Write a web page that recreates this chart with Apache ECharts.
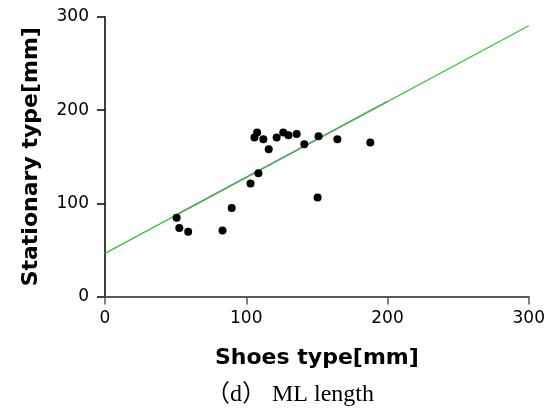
<!DOCTYPE html>
<html>
<head>
<meta charset="utf-8">
<script src="https://cdn.jsdelivr.net/npm/echarts@6/dist/echarts.min.js"></script>
<style>html,body{margin:0;padding:0;background:#fff}#c{width:548px;height:412px}</style>
</head>
<body>
<div id="c"></div>
<script>
// Data
const shoesX = [50.7, 52.6, 58.9, 83.2, 89.7, 103.0, 108.6, 105.8, 107.7, 112.1, 115.9, 121.5, 126.2, 129.9, 135.7, 141.1, 151.2, 150.5, 164.5, 187.8];
const stationaryY = [84.4, 73.4, 69.4, 70.9, 95.1, 121.3, 132.3, 170.6, 175.9, 168.8, 158.0, 170.6, 175.9, 173.0, 174.4, 163.4, 172.0, 106.3, 168.8, 165.2];
// Trend line (green, extended) endpoints
const trendX = [0, 300];
const trendY = [46.3, 290.6];
// Fit line over data range (purple, beneath green)
const fitX = [50, 200];
const fitY = [87.4, 209.5];
const xTicks = [0, 100, 200, 300];
const yTicks = [0, 100, 200, 300];

const points = shoesX.map((x, i) => [x, stationaryY[i]]);
const trend = trendX.map((x, i) => [x, trendY[i]]);
const fit = fitX.map((x, i) => [x, fitY[i]]);

const chart = echarts.init(document.getElementById('c'), null, {renderer: 'canvas'});
chart.setOption({
  animation: false,
  backgroundColor: '#fff',
  title: {
    text: '（d） ML length',
    left: 201,
    top: 378,
    textStyle: {fontFamily: 'Liberation Serif, Noto Sans CJK JP, serif', fontSize: 24, fontWeight: 'normal', color: '#000'}
  },
  grid: {left: 105, top: 17, right: 15, bottom: 115.5, containLabel: false},
  xAxis: {
    type: 'value', min: xTicks[0], max: xTicks[xTicks.length - 1], interval: 100,
    name: 'Shoes type[mm]', nameLocation: 'middle', nameGap: 51,
    nameTextStyle: {fontFamily: 'DejaVu Sans, Verdana, sans-serif', fontSize: 22, fontWeight: 'bold', color: '#000'},
    axisLine: {show: true, onZero: false, lineStyle: {color: '#595959', width: 2}},
    axisTick: {show: true, length: 8, lineStyle: {color: '#595959', width: 1.5}},
    axisLabel: {margin: 14, fontFamily: 'DejaVu Sans, Verdana, sans-serif', fontSize: 17, color: '#000'},
    splitLine: {show: false}
  },
  yAxis: {
    type: 'value', min: yTicks[0], max: yTicks[yTicks.length - 1], interval: 100,
    name: 'Stationary type[mm]', nameLocation: 'middle', nameGap: 63,
    nameTextStyle: {fontFamily: 'DejaVu Sans, Verdana, sans-serif', fontSize: 22, fontWeight: 'bold', color: '#000'},
    axisLine: {show: true, onZero: false, lineStyle: {color: '#000', width: 1.5}},
    axisTick: {show: true, length: 8, lineStyle: {color: '#000', width: 1.5}},
    axisLabel: {margin: 16, fontFamily: 'DejaVu Sans, Verdana, sans-serif', fontSize: 17, color: '#000'},
    splitLine: {show: false}
  },
  series: [
    {type: 'line', data: fit, symbol: 'none', lineStyle: {color: '#8a5fc4', width: 1.5}, z: 1, silent: true},
    {type: 'line', data: trend, symbol: 'none', lineStyle: {color: '#36c236', width: 1.3}, z: 2, silent: true},
    {type: 'scatter', data: points, symbol: 'circle', symbolSize: 8, itemStyle: {color: '#000', opacity: 1}, z: 3}
  ]
});
</script>
</body>
</html>
